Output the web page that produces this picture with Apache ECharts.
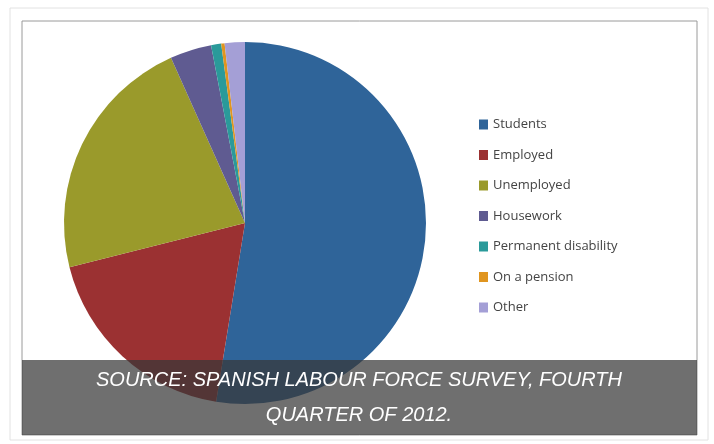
<!DOCTYPE html>
<html><head><meta charset="utf-8">
<script src="https://cdn.jsdelivr.net/npm/echarts@6/dist/echarts.min.js"></script>
<style>html,body{margin:0;padding:0;background:#fff}#c{width:714px;height:444px}</style>
</head><body><div id="c"></div>
<script>
const categories = ['Students','Employed','Unemployed','Housework','Permanent disability','On a pension','Other'];
const values = [52.5, 18.5, 22.2, 3.7, 0.9, 0.3, 1.8];
const colors = ['#2f6499','#9b3132','#9a9a2b','#5f5b91','#2a9a9a','#e0951f','#a49fd6'];
const sourceLines = ['SOURCE: SPANISH LABOUR FORCE SURVEY, FOURTH','QUARTER OF 2012.'];

const chart = echarts.init(document.getElementById('c'));
chart.setOption({
  animation:false,
  color: colors,
  legend:{
    orient:'vertical', left:474, top:113, itemGap:17.5, itemWidth:9, itemHeight:10,
    icon:'rect', textStyle:{fontFamily:'Open Sans', fontSize:13, color:'#444'},
    data: categories
  },
  series:[{
    type:'pie', center:[245,223], radius:181, startAngle:90, clockwise:true,
    label:{show:false}, labelLine:{show:false}, z:2,
    data: categories.map((n,i)=>({name:n, value:values[i]}))
  }],
  graphic:[
    {type:'rect', shape:{x:10,y:8,width:698,height:432}, style:{fill:'none',stroke:'#e2e2e2',lineWidth:1}, z:0},
    {type:'rect', shape:{x:22,y:21,width:675,height:414}, style:{fill:'none',stroke:'#9a9a9a',lineWidth:1}, z:0},
    {type:'rect', shape:{x:22,y:360,width:675,height:75}, style:{fill:'rgba(55,55,55,0.72)'}, z:100},
    {type:'text', x:359, y:380, z:101, style:{text:sourceLines[0], fill:'#fff', font:'italic 20px "Liberation Sans"', align:'center', verticalAlign:'middle'}},
    {type:'text', x:359, y:415, z:101, style:{text:sourceLines[1], fill:'#fff', font:'italic 20px "Liberation Sans"', align:'center', verticalAlign:'middle'}}
  ]
});
</script></body></html>
